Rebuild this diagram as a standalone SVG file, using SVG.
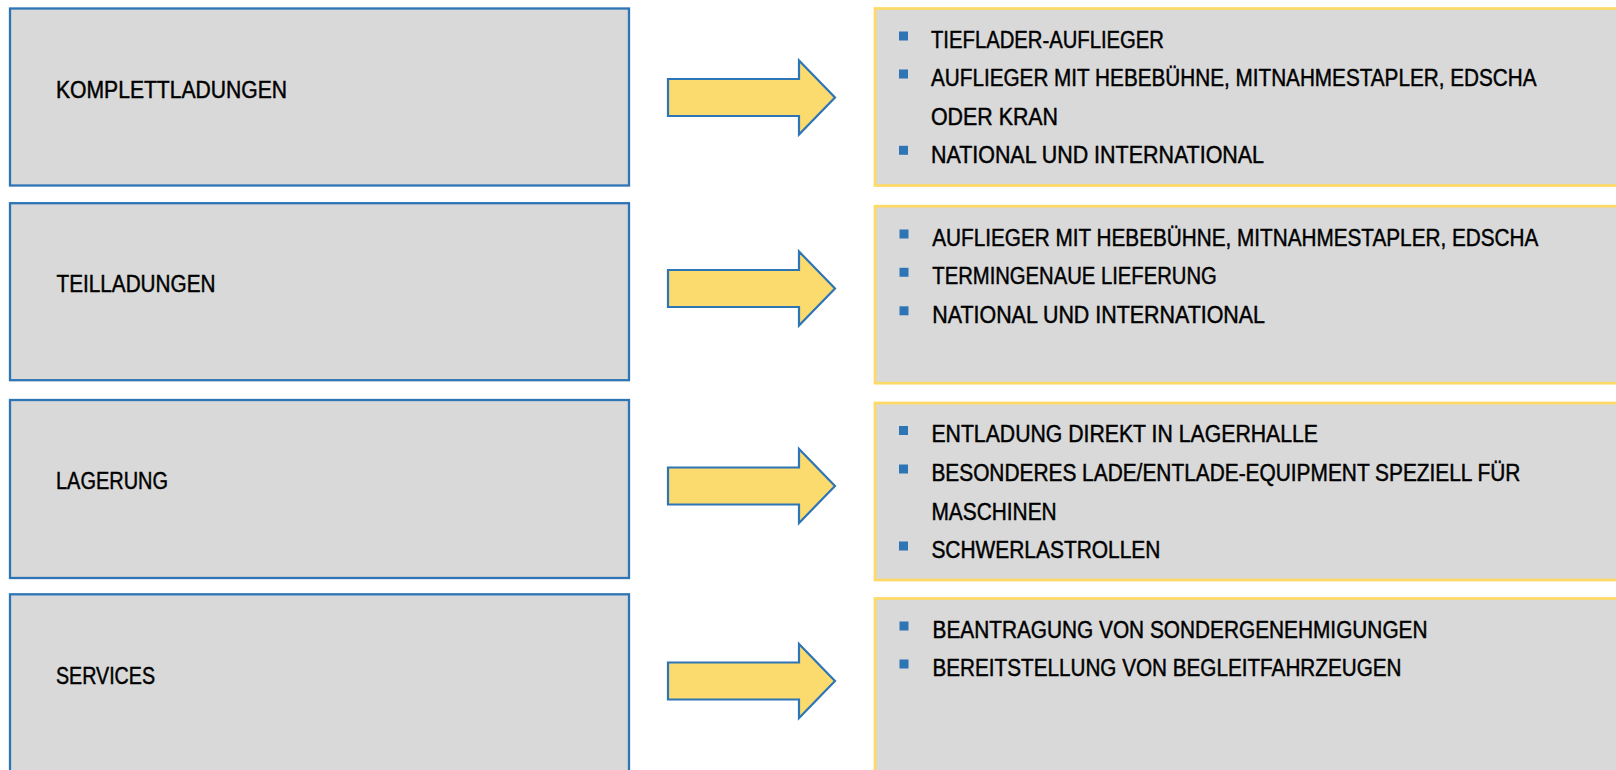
<svg xmlns="http://www.w3.org/2000/svg" width="1616" height="770" viewBox="0 0 1616 770">
  <style>
    .lbox { fill: #D9D9D9; stroke: #2E75B6; stroke-width: 2.3; }
    .rbox { fill: #D9D9D9; stroke: #FFD966; stroke-width: 2.7; }
    .arrow { fill: #FBDB6E; stroke: #2E75B6; stroke-width: 2.2; stroke-linejoin: miter; }
    .bul { fill: #2E75B6; }
    text { font-family: "Liberation Sans", Arial, sans-serif; font-size: 23px; fill: #000; stroke: #000; stroke-width: 0.45; }
  </style>
  <defs>
    <polygon id="arr" points="668,-18.5 799,-18.5 799,-37 835,0 799,37 799,18.5 668,18.5"/>
  </defs>
  <rect width="1616" height="770" fill="#FFFFFF"/>

  <g id="connectors">
    <use href="#arr" class="arrow" transform="translate(0,97.5)"/>
    <use href="#arr" class="arrow" transform="translate(0,288.5)"/>
    <use href="#arr" class="arrow" transform="translate(0,486)"/>
    <use href="#arr" class="arrow" transform="translate(0,681)"/>
  </g>

  <g id="node-komplettladungen">
    <rect class="lbox" x="10" y="8.5" width="619" height="177"/>
    <text x="56" y="98.3" textLength="231" lengthAdjust="spacingAndGlyphs">KOMPLETTLADUNGEN</text>
  </g>
  <g id="node-teilladungen">
    <rect class="lbox" x="10" y="203.2" width="619" height="177"/>
    <text x="56.5" y="292.3" textLength="159" lengthAdjust="spacingAndGlyphs">TEILLADUNGEN</text>
  </g>
  <g id="node-lagerung">
    <rect class="lbox" x="10" y="400" width="619" height="178"/>
    <text x="56" y="489" textLength="112" lengthAdjust="spacingAndGlyphs">LAGERUNG</text>
  </g>
  <g id="node-services">
    <rect class="lbox" x="10" y="594.3" width="619" height="200"/>
    <text x="56" y="684" textLength="99" lengthAdjust="spacingAndGlyphs">SERVICES</text>
  </g>

  <g id="node-komplett-details">
    <rect class="rbox" x="875" y="8.5" width="800" height="177"/>
    <rect class="bul" x="899" y="31.5" width="9" height="9"/>
    <text x="931" y="48.3" textLength="233" lengthAdjust="spacingAndGlyphs">TIEFLADER-AUFLIEGER</text>
    <rect class="bul" x="899" y="69.5" width="9" height="9"/>
    <text x="931" y="86.2" textLength="605.5" lengthAdjust="spacingAndGlyphs">AUFLIEGER MIT HEBEBÜHNE, MITNAHMESTAPLER, EDSCHA</text>
    <text x="931" y="124.8" textLength="127" lengthAdjust="spacingAndGlyphs">ODER KRAN</text>
    <rect class="bul" x="899" y="145.8" width="9" height="9"/>
    <text x="931" y="162.5" textLength="333" lengthAdjust="spacingAndGlyphs">NATIONAL UND INTERNATIONAL</text>
  </g>

  <g id="node-teil-details">
    <rect class="rbox" x="875" y="206.2" width="800" height="177"/>
    <rect class="bul" x="899.5" y="229.5" width="9" height="9"/>
    <text x="932.3" y="245.8" textLength="606" lengthAdjust="spacingAndGlyphs">AUFLIEGER MIT HEBEBÜHNE, MITNAHMESTAPLER, EDSCHA</text>
    <rect class="bul" x="899.5" y="267.8" width="9" height="9"/>
    <text x="932.3" y="284.2" textLength="284.5" lengthAdjust="spacingAndGlyphs">TERMINGENAUE LIEFERUNG</text>
    <rect class="bul" x="899.5" y="306.3" width="9" height="9"/>
    <text x="932.3" y="322.8" textLength="332.7" lengthAdjust="spacingAndGlyphs">NATIONAL UND INTERNATIONAL</text>
  </g>

  <g id="node-lagerung-details">
    <rect class="rbox" x="875" y="403" width="800" height="177"/>
    <rect class="bul" x="899" y="426" width="9" height="9"/>
    <text x="931.4" y="442.4" textLength="386.6" lengthAdjust="spacingAndGlyphs">ENTLADUNG DIREKT IN LAGERHALLE</text>
    <rect class="bul" x="899" y="464.5" width="9" height="9"/>
    <text x="931.4" y="480.8" textLength="589" lengthAdjust="spacingAndGlyphs">BESONDERES LADE/ENTLADE-EQUIPMENT SPEZIELL FÜR</text>
    <text x="931.4" y="520" textLength="125.3" lengthAdjust="spacingAndGlyphs">MASCHINEN</text>
    <rect class="bul" x="899" y="541.5" width="9" height="9"/>
    <text x="931.4" y="558.3" textLength="229" lengthAdjust="spacingAndGlyphs">SCHWERLASTROLLEN</text>
  </g>

  <g id="node-services-details">
    <rect class="rbox" x="875" y="598.5" width="800" height="200"/>
    <rect class="bul" x="899.5" y="621.5" width="9" height="9"/>
    <text x="932.5" y="638.3" textLength="495" lengthAdjust="spacingAndGlyphs">BEANTRAGUNG VON SONDERGENEHMIGUNGEN</text>
    <rect class="bul" x="899.5" y="659.5" width="9" height="9"/>
    <text x="932.5" y="676" textLength="469" lengthAdjust="spacingAndGlyphs">BEREITSTELLUNG VON BEGLEITFAHRZEUGEN</text>
  </g>
</svg>
